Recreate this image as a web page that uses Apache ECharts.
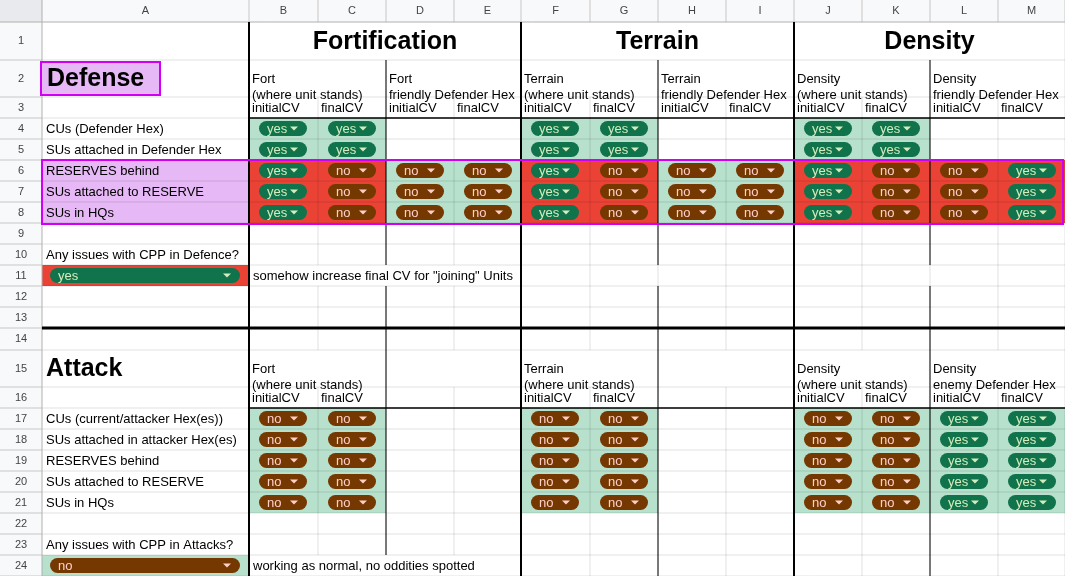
<!DOCTYPE html>
<html>
<head>
<meta charset="utf-8">
<script src="https://cdn.jsdelivr.net/npm/echarts@6/dist/echarts.min.js"></script>
<style>html,body{margin:0;padding:0;background:#fff}#main{width:1065px;height:576px}</style>
</head>
<body>
<div id="main"></div>
<script>
// sheet data
var colLetters = ['A','B','C','D','E','F','G','H','I','J','K','L','M'];
var groupTitles = ['Fortification','Terrain','Density'];
var defenseHeads = ['Fort\n(where unit stands)','Fort\nfriendly Defender Hex','Terrain\n(where unit stands)','Terrain\nfriendly Defender Hex','Density\n(where unit stands)','Density\nfriendly Defender Hex'];
var attackHeads = ['Fort\n(where unit stands)','','Terrain\n(where unit stands)','','Density\n(where unit stands)','Density\nenemy Defender Hex'];
var cvLabels = ['initialCV','finalCV'];
var defenseRows = ['CUs (Defender Hex)','SUs attached in Defender Hex','RESERVES behind','SUs attached to RESERVE','SUs in HQs'];
var defenseVals = [
  ['yes','yes','','','yes','yes','','','yes','yes','',''],
  ['yes','yes','','','yes','yes','','','yes','yes','',''],
  ['yes','no','no','no','yes','no','no','no','yes','no','no','yes'],
  ['yes','no','no','no','yes','no','no','no','yes','no','no','yes'],
  ['yes','no','no','no','yes','no','no','no','yes','no','no','yes']
];
var defenseFill = [
  ['g','g','','','g','g','','','g','g','',''],
  ['g','g','','','g','g','','','g','g','',''],
  ['r','r','g','g','r','r','g','g','r','r','r','r'],
  ['r','r','g','g','r','r','g','g','r','r','r','r'],
  ['r','r','g','g','r','r','g','g','r','r','r','r']
];
var attackRows = ['CUs (current/attacker Hex(es))','SUs attached in attacker Hex(es)','RESERVES behind','SUs attached to RESERVE','SUs in HQs'];
var attackVals = [
  ['no','no','','','no','no','','','no','no','yes','yes'],
  ['no','no','','','no','no','','','no','no','yes','yes'],
  ['no','no','','','no','no','','','no','no','yes','yes'],
  ['no','no','','','no','no','','','no','no','yes','yes'],
  ['no','no','','','no','no','','','no','no','yes','yes']
];
var defenseQuestion = 'Any issues with CPP in Defence?';
var defenseAnswer = 'yes';
var defenseNote = 'somehow increase final CV for "joining" Units';
var attackQuestion = 'Any issues with CPP in Attacks?';
var attackAnswer = 'no';
var attackNote = 'working as normal, no oddities spotted';

// layout
var colEdges = [42,249,318,386,454,521,590,658,726,794,862,930,998,1065];
var rowEdges = [22,60,97,118,139,160,181,202,223,244,265,286,307,328,350,387,408,429,450,471,492,513,534,555,576];
var FONT = 'Arial, "Liberation Sans", sans-serif';
var GREEN = '#b7e1cd', RED = '#ea4335', PURPLE = '#e6b8f5', MAGENTA = '#d100f5';
var CHIP = {yes: {bg: '#11734b', fg: '#d4edbc'}, no: {bg: '#753800', fg: '#ffcfc9'}};

var items = [];
function add(o) { items.push(o); }
function cx(c) { return colEdges[c]; }
function ry(r) { return rowEdges[r - 1]; }

// header strip
add({t: 'rect', x0: 0, y0: 0, x1: 1065, y1: 22, fill: '#f8f9fa', z: 1});
add({t: 'rect', x0: 0, y0: 0, x1: 42, y1: 576, fill: '#f8f9fa', z: 1});
colLetters.forEach(function (l, i) {
  add({t: 'line', x0: cx(i + 1), y0: 0, x1: cx(i + 1), y1: 22, color: '#c7c7c7', w: 1, z: 2});
  add({t: 'text', x: (cx(i) + cx(i + 1)) / 2, y: 11, text: l, size: 11, color: '#444', align: 'center', z: 5});
});
for (var r = 1; r <= 24; r++) {
  add({t: 'line', x0: 0, y0: ry(r + 1), x1: 42, y1: ry(r + 1), color: '#c7c7c7', w: 1, z: 2});
  add({t: 'text', x: 21, y: (ry(r) + ry(r + 1)) / 2, text: String(r), size: 11, color: '#444', align: 'center', z: 5});
}
add({t: 'line', x0: 42, y0: 0, x1: 42, y1: 576, color: '#b0b0b0', w: 1, z: 3});
add({t: 'line', x0: 0, y0: 22, x1: 1065, y1: 22, color: '#b0b0b0', w: 1, z: 3});
add({t: 'rect', x0: 0, y0: 0, x1: 42, y1: 22, fill: '#e8eaed', z: 2});

// cell fills
function fillCell(c, r, f) {
  if (!f) return;
  add({t: 'rect', x0: cx(c), y0: ry(r), x1: cx(c + 1), y1: ry(r + 1), fill: f === 'g' ? GREEN : RED, z: 1});
}
defenseFill.forEach(function (row, i) { row.forEach(function (f, j) { fillCell(j + 1, 4 + i, f); }); });
attackVals.forEach(function (row, i) { row.forEach(function (v, j) { fillCell(j + 1, 17 + i, v ? 'g' : ''); }); });
for (var k = 6; k <= 8; k++) add({t: 'rect', x0: cx(0), y0: ry(k), x1: cx(1), y1: ry(k + 1), fill: PURPLE, z: 1});
add({t: 'rect', x0: cx(0), y0: ry(11), x1: cx(1), y1: ry(12), fill: RED, z: 1});
add({t: 'rect', x0: cx(0), y0: ry(24), x1: cx(1), y1: ry(25), fill: GREEN, z: 1});

// gridlines
var grid = 'rgba(0,0,0,0.12)';
for (var r2 = 1; r2 <= 24; r2++) {
  add({t: 'line', x0: 42, y0: ry(r2 + 1), x1: 1065, y1: ry(r2 + 1), color: grid, w: 1, z: 2});
  for (var c = 1; c < colEdges.length; c++) {
    var x = colEdges[c];
    if (r2 === 1 && [2,3,4,6,7,8,10,11,12].indexOf(c) >= 0) continue;
    if ((r2 === 2 || r2 === 15) && c % 2 === 0) continue;
    if ((r2 === 11 || r2 === 24) && (c === 2 || c === 3 || c === 4)) continue;
    add({t: 'line', x0: x, y0: ry(r2), x1: x, y1: ry(r2 + 1), color: grid, w: 1, z: 2});
  }
}

// black borders
[1, 5, 9].forEach(function (c) {
  add({t: 'line', x0: cx(c), y0: 22, x1: cx(c), y1: 576, color: '#000', w: 2, z: 4});
});
[3, 7, 11].forEach(function (c) {
  add({t: 'line', x0: cx(c), y0: ry(2), x1: cx(c), y1: ry(11), color: '#000', w: 1, z: 4});
  add({t: 'line', x0: cx(c), y0: ry(12), x1: cx(c), y1: ry(24), color: '#000', w: 1, z: 4});
});
add({t: 'line', x0: cx(11), y0: ry(24), x1: cx(11), y1: 576, color: '#000', w: 1, z: 4});
add({t: 'line', x0: cx(7), y0: ry(24), x1: cx(7), y1: 576, color: '#000', w: 1, z: 4});
add({t: 'line', x0: cx(1), y0: ry(4), x1: 1065, y1: ry(4), color: '#000', w: 1.5, z: 4});
add({t: 'line', x0: cx(1), y0: ry(17), x1: 1065, y1: ry(17), color: '#000', w: 1.5, z: 4});
add({t: 'line', x0: 42, y0: ry(14), x1: 1065, y1: ry(14), color: '#000', w: 3, z: 4});

// texts
function txt(x, y, s, o) {
  o = o || {};
  add({t: 'text', x: x, y: y, text: s, size: o.size || 13, bold: o.bold, color: o.color || '#000', align: o.align || 'left', z: 6, lh: 16});
}
groupTitles.forEach(function (g, i) {
  txt((cx(1 + i * 4) + cx(5 + i * 4)) / 2, 42, g, {size: 25, bold: true, align: 'center'});
});
function heads(list, row) {
  list.forEach(function (h, i) {
    if (!h) return;
    var yy = (ry(row) + ry(row + 1)) / 2 + 1;
    txt(cx(1 + i * 2) + 3, yy, h);
    txt(cx(1 + i * 2) + 3, (ry(row + 1) + ry(row + 2)) / 2 + 1, cvLabels[0]);
    txt(cx(2 + i * 2) + 3, (ry(row + 1) + ry(row + 2)) / 2 + 1, cvLabels[1]);
  });
}
heads(defenseHeads, 2);
heads(attackHeads, 15);
add({t: 'rect', x0: 41, y0: 62, x1: 160, y1: 95, fill: PURPLE, stroke: MAGENTA, w: 2, z: 5});
txt(47, 79, 'Defense', {size: 25, bold: true});
txt(46, 369, 'Attack', {size: 25, bold: true});
defenseRows.forEach(function (s, i) { txt(46, (ry(4 + i) + ry(5 + i)) / 2 + 1, s); });
attackRows.forEach(function (s, i) { txt(46, (ry(17 + i) + ry(18 + i)) / 2 + 1, s); });
txt(46, (ry(10) + ry(11)) / 2 + 1, defenseQuestion);
txt(253, (ry(11) + ry(12)) / 2 + 1, defenseNote);
txt(46, (ry(23) + ry(24)) / 2 + 1, attackQuestion);
txt(253, (ry(24) + ry(25)) / 2 + 1, attackNote);

// chips
function chip(x0, x1, r, v) {
  if (!v) return;
  var ym = (ry(r) + ry(r + 1)) / 2;
  add({t: 'chip', x0: x0, x1: x1, y: ym, v: v, z: 7});
}
defenseVals.forEach(function (row, i) { row.forEach(function (v, j) { chip(cx(j + 1) + 10, cx(j + 1) + 58, 4 + i, v); }); });
attackVals.forEach(function (row, i) { row.forEach(function (v, j) { chip(cx(j + 1) + 10, cx(j + 1) + 58, 17 + i, v); }); });
chip(50, 240, 11, defenseAnswer);
chip(50, 240, 24, attackAnswer);

// highlight frame
add({t: 'rect', x0: 42, y0: ry(6), x1: 1063, y1: ry(9) + 1, fill: 'none', stroke: MAGENTA, w: 2, z: 8});

function renderItem(params, api) {
  var it = items[params.dataIndex];
  var P = function (x, y) { return api.coord([x, y]); };
  if (it.t === 'rect') {
    var a = P(it.x0, it.y0), b = P(it.x1, it.y1);
    return {type: 'rect', z2: it.z, shape: {x: a[0], y: a[1], width: b[0] - a[0], height: b[1] - a[1]},
      style: {fill: it.fill, stroke: it.stroke || null, lineWidth: it.w || 0}};
  }
  if (it.t === 'line') {
    var p = P(it.x0, it.y0), q = P(it.x1, it.y1);
    return {type: 'line', z2: it.z, shape: {x1: p[0], y1: p[1], x2: q[0], y2: q[1]},
      style: {stroke: it.color, lineWidth: it.w}};
  }
  if (it.t === 'text') {
    var t = P(it.x, it.y);
    var lines = it.text.split('\n').length;
    return {type: 'text', z2: it.z, x: t[0], y: t[1] - (lines - 1) * 8,
      style: {text: it.text, fill: it.color, fontSize: it.size, fontWeight: it.bold ? 'bold' : 'normal',
        fontFamily: FONT, align: it.align, verticalAlign: lines > 1 ? 'top' : 'middle', lineHeight: 16}};
  }
  if (it.t === 'chip') {
    var c0 = P(it.x0, it.y - 7.5), c1 = P(it.x1, it.y + 7.5), col = CHIP[it.v];
    var h = c1[1] - c0[1], mid = (c0[1] + c1[1]) / 2, ax = c1[0] - 13;
    return {type: 'group', z2: it.z, children: [
      {type: 'rect', z2: it.z, shape: {x: c0[0], y: c0[1], width: c1[0] - c0[0], height: h, r: h / 2}, style: {fill: col.bg}},
      {type: 'text', z2: it.z + 1, x: c0[0] + 8, y: mid + 1,
        style: {text: it.v, fill: col.fg, fontSize: 13, fontFamily: FONT, align: 'left', verticalAlign: 'middle'}},
      {type: 'polygon', z2: it.z + 1, shape: {points: [[ax - 4, mid - 2], [ax + 4, mid - 2], [ax, mid + 2]]}, style: {fill: col.fg}}
    ]};
  }
  return null;
}

var chart = echarts.init(document.getElementById('main'), null, {renderer: 'canvas'});
chart.setOption({
  animation: false,
  backgroundColor: '#fff',
  grid: {left: 0, right: 0, top: 0, bottom: 0},
  xAxis: {type: 'value', min: 0, max: 1065, show: false},
  yAxis: {type: 'value', min: 0, max: 576, inverse: true, show: false},
  series: [{
    type: 'custom',
    coordinateSystem: 'cartesian2d',
    renderItem: renderItem,
    clip: false,
    silent: true,
    data: items.map(function (it, i) { return [i, 0]; })
  }]
});
</script>
</body>
</html>
